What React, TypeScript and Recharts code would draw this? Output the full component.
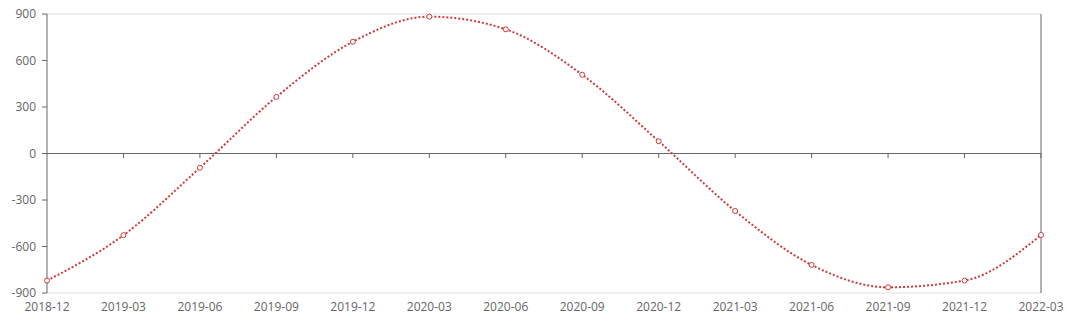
import React from 'react';
import {
  LineChart,
  Line,
  XAxis,
  YAxis,
  CartesianGrid,
  ReferenceLine,
} from 'recharts';

const months = [
  '2018-12', '2019-03', '2019-06', '2019-09', '2019-12', '2020-03', '2020-06',
  '2020-09', '2020-12', '2021-03', '2021-06', '2021-09', '2021-12', '2022-03',
];
const values = [-820, -527, -92, 365, 721, 883, 801, 508, 79, -371, -719, -863, -820, -526];
const yTicks = [-900, -600, -300, 0, 300, 600, 900];

const chartData = months.map((m, i) => ({ month: m, value: values[i] }));

const LINE_RED = '#cf3a3c';
const AXIS_DARK = '#666';
const LABEL = '#666';
const FONT = '"Open Sans", "Noto Sans", sans-serif';
// length of the little ticks hanging under the zero line, in value units
const ZERO_TICK = 30;

export default function App() {
  return (
    <div style={{ position: 'absolute', left: 0, top: 0, background: '#fff' }}>
      <LineChart
        width={1080}
        height={325}
        data={chartData}
        margin={{ top: 14, right: 38, bottom: 0, left: 0 }}
      >
        <CartesianGrid stroke="#e0e0e0" vertical={false} />
        <XAxis
          dataKey="month"
          axisLine={false}
          tickLine={false}
          tickSize={5}
          tickMargin={4}
          height={32}
          interval={0}
          tick={{ fontSize: 12, fill: LABEL, fontFamily: FONT }}
        />
        <YAxis
          yAxisId="left"
          domain={[-900, 900]}
          ticks={yTicks}
          width={47}
          axisLine={{ stroke: AXIS_DARK }}
          tickLine={{ stroke: AXIS_DARK }}
          tickSize={5}
          tickMargin={6}
          tick={{ fontSize: 12, fill: LABEL, fontFamily: FONT }}
        />
        <YAxis
          yAxisId="right"
          orientation="right"
          domain={[-900, 900]}
          ticks={yTicks}
          width={1}
          tick={false}
          tickLine={false}
          axisLine={{ stroke: AXIS_DARK }}
        />
        <ReferenceLine yAxisId="left" y={0} stroke={AXIS_DARK} />
        {months.slice(1).map((m) => (
          <ReferenceLine
            key={m}
            yAxisId="left"
            stroke={AXIS_DARK}
            segment={[
              { x: m, y: 0 },
              { x: m, y: -ZERO_TICK },
            ]}
          />
        ))}
        <Line
          yAxisId="left"
          type="monotone"
          dataKey="value"
          stroke={LINE_RED}
          strokeWidth={2}
          strokeDasharray="2 2"
          dot={{ r: 2.5, stroke: LINE_RED, strokeWidth: 1, fill: '#fff', strokeDasharray: '0' }}
          isAnimationActive={false}
        />
      </LineChart>
    </div>
  );
}
